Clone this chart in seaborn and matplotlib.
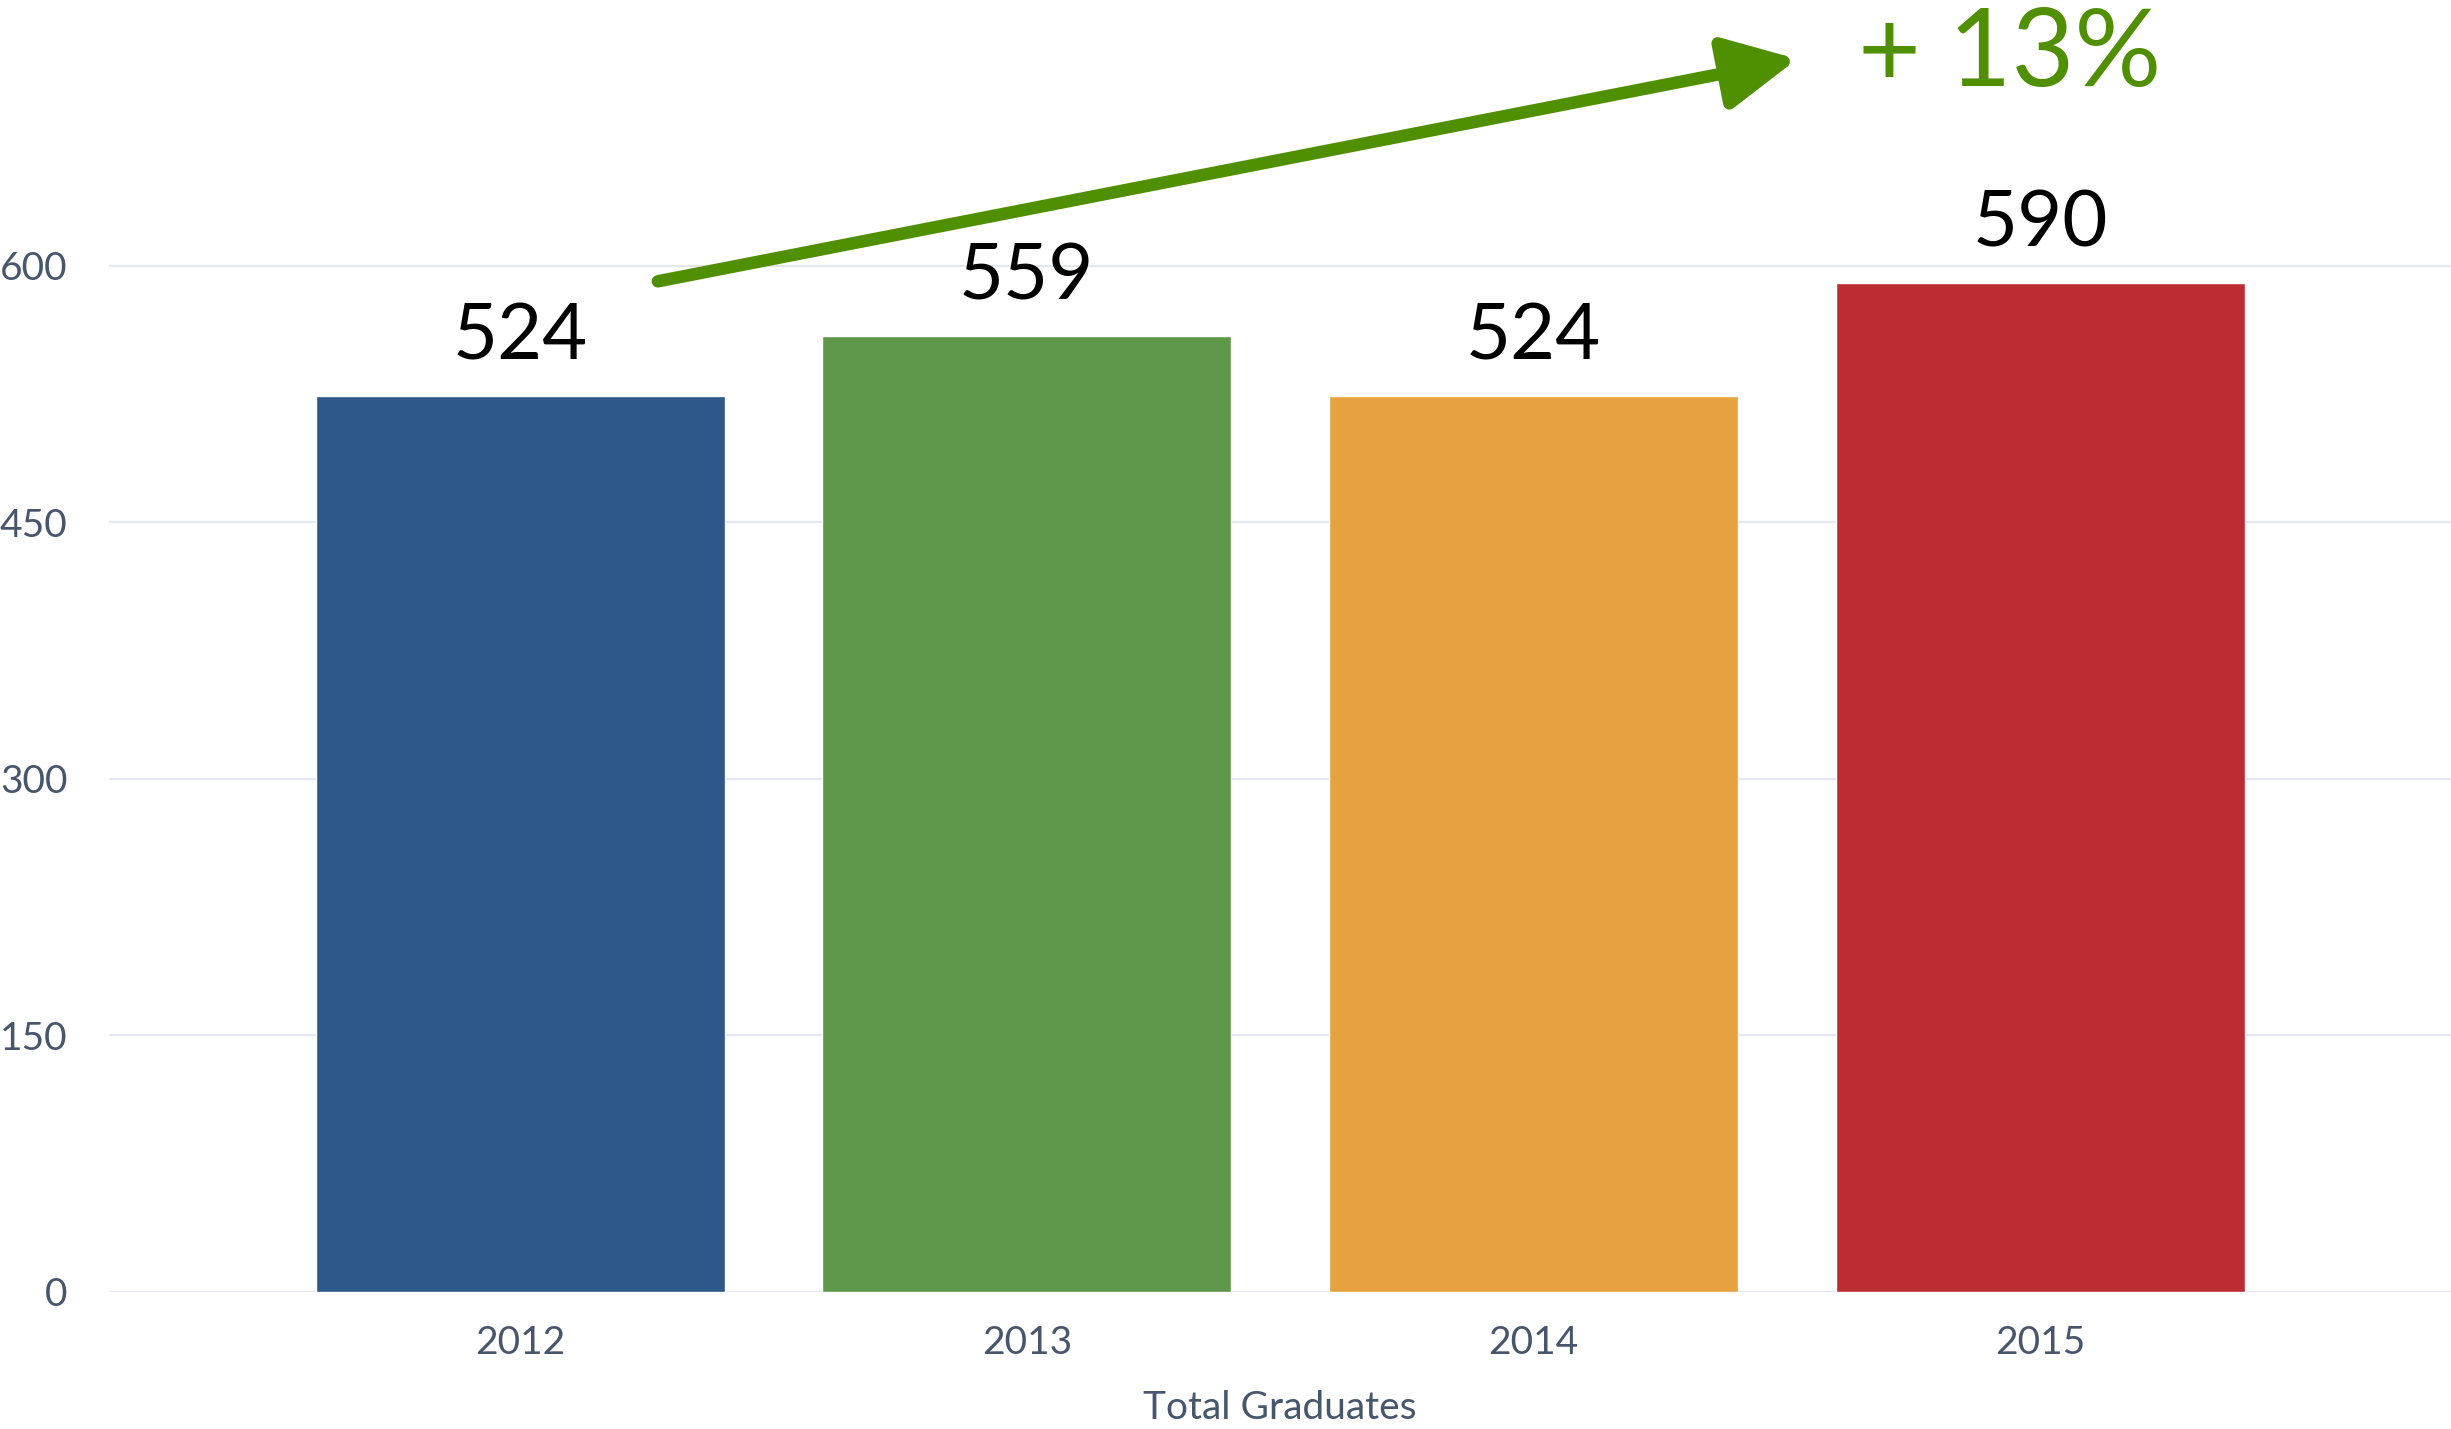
import pandas as pd
import matplotlib
matplotlib.use("Agg")
import matplotlib.pyplot as plt
import seaborn as sns

years = ['2012', '2013', '2014', '2015']
graduates = [524, 559, 524, 590]
bar_colors = ['#2E5889', '#5E9749', '#E5A23F', '#BC2D33']
y_ticks = [0, 150, 300, 450, 600]
growth_label = '+ 13%'
x_title = 'Total Graduates'

df = pd.DataFrame({'Year': years, 'Graduates': graduates})

sns.set_style('white')
plt.rcParams['font.family'] = ['Lato', 'DejaVu Sans']

fig = plt.figure(figsize=(24.51, 14.29), dpi=100)
ax = fig.add_axes([109 / 2451, 137 / 1429, 2342 / 2451, 1292 / 1429])

sns.barplot(data=df, x='Year', y='Graduates', hue='Year', palette=bar_colors,
            legend=False, dodge=False, width=0.807, saturation=1, ax=ax, zorder=3)

ax.set_xlim(-0.811, 3.81)
ax.set_ylim(0, 755.5)
ax.set_yticks(y_ticks)
ax.yaxis.grid(True, color='#E4E8EE', lw=1.6, zorder=0)
ax.set_axisbelow(True)
sns.despine(ax=ax, left=True, bottom=True)

tick_color = '#46566D'
ax.tick_params(axis='y', length=0, pad=30, labelsize=28, labelcolor=tick_color)
ax.tick_params(axis='x', length=0, pad=24, labelsize=28, labelcolor=tick_color)
ax.set_ylabel('')
ax.set_xlabel(x_title, fontsize=28, color=tick_color)
ax.xaxis.set_label_coords(0.5, -0.076)

# value labels above bars
for i, v in enumerate(graduates):
    ax.annotate(str(v), xy=(i, v), xytext=(0, 16), textcoords='offset points',
                ha='center', va='bottom', fontsize=56, color='black')

# growth arrow
green = '#4F8F00'
ax.annotate('', xy=(2.52, 721), xytext=(0.272, 591),
            arrowprops=dict(arrowstyle='-|>,head_length=2.2,head_width=1.1',
                            mutation_scale=20, lw=9, color=green,
                            shrinkA=0, shrinkB=0),
            annotation_clip=False)
ax.text(2.94, 723, growth_label, ha='center', va='center', fontsize=78,
        color=green, clip_on=False)

fig.savefig('out.png', dpi=100)
